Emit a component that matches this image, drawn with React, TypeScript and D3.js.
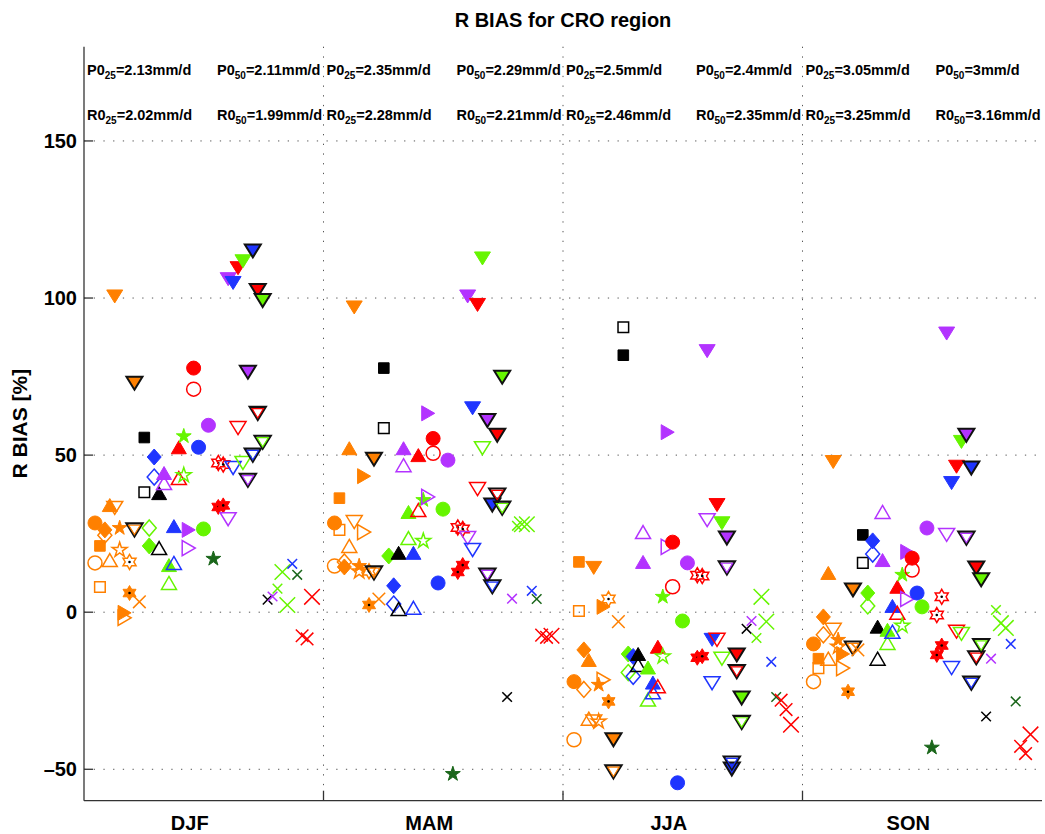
import React from 'react';
import * as d3 from 'd3';

const seasons = ['DJF', 'MAM', 'JJA', 'SON'];
const p0q25 = ['2.13', '2.35', '2.5', '3.05'];
const p0q50 = ['2.11', '2.29', '2.4', '3'];
const r0q25 = ['2.02', '2.28', '2.46', '3.25'];
const r0q50 = ['1.99', '2.21', '2.35', '3.16'];
const yTicks = [-50, 0, 50, 100, 150];

// one entry per model: marker shape and colour
const modelShapes = [
  'o', 's', 'd', '^', 'v', 'p', '>', 'h', 've', 'xm',
  's', 'd', 'd', '^', '^', '^', '^', '^', 'p', '>',
  'o', 'o', 'o', 'o', 'p', 'h', 'h', 'v', 'v', 'v',
  'v', 've', 've', 've', 've', 'x', 'x', 'x', 'X', 'X',
  'x', 'x', 'xm', 'xm', 'X',
];
const modelColors = [
  'O', 'O', 'O', 'O', 'O', 'O', 'O', 'O', 'O', 'O',
  'K', 'G', 'B', 'K', 'P', 'G', 'B', 'R', 'G', 'P',
  'R', 'B', 'G', 'P', 'D', 'R', 'R', 'P', 'B', 'R',
  'G', 'P', 'B', 'R', 'G', 'K', 'P', 'G', 'G', 'G',
  'B', 'D', 'R', 'R', 'R',
];

const N = null;
// filled markers (first threshold) and open markers (second threshold), R BIAS in %
const djfSolid = [28.4, 21.1, 26.2, 34.1, 100.5, 26.8, -0.2, 6.1, 72.9, 3.3,
  55.6, 21.1, 49.4, 37.9, 44.3, 15, 27.4, 52.5, 56, 26.2,
  77.7, 52.5, 26.5, 59.5, 17, 33.5, 34, 106, 104.8, 109.5,
  111.7, 76.4, 115, 102.4, 99.2, 4, 5, 7.5, 12.8, 2.3,
  15.4, 11.9, -7.5, -8.5, 4.9];
const djfOpen = [15.7, 8, 24.5, 16.6, 33.2, 19.8, -1.8, 16, 26.2, N,
  38.2, 26.8, 43, 20.4, 41.1, 9.3, 15.7, 42.7, 43.6, 20.4,
  71, N, N, N, N, 47.5, 47, 29.6, 45.9, 58.6,
  47.5, 42, 50, 63.3, 54.1];

const mamSolid = [28.4, 36.3, 14.4, 52.2, 97, 14.7, 43.3, 2.3, 48.7, 4.2,
  77.7, 17.9, 8.4, 18.9, 52.2, 31.9, 18.9, 50, 35.7, 63.3,
  55.3, 9.3, 32.8, 48.4, -51.5, 12.8, 15, 100.5, 64.9, 97.8,
  112.6, 61, 34.1, 56.3, 74.8, -27, 4.3, 27.5, 28, 28,
  6.8, 4.2, -7.3, -8, -7.5];
const mamOpen = [14.7, 26.2, 16, 21.1, 28.7, 13, 25.5, 13, 12.5, N,
  58.6, N, 2.6, 1, 46.8, 23.6, 1.4, 32.5, 22.7, 36.7,
  50.6, N, N, N, N, 27, 26.5, 23.6, 19.8, 39.2,
  52.2, 11.8, 8.1, 37.3, 33.1];

const jjaSolid = [-22.1, 16, -12, -15.2, 14.1, -23.1, 1.7, -28.4, -40.6, -3,
  81.8, -13.3, -14.1, -13.3, 16, -17.6, -22.4, -11, 4.9, 57.3,
  22.3, -54.3, -2.8, 15.7, N, -14.5, -14, 83.1, -8.8, 34.1,
  28.3, 23.6, -49.9, -13.6, -27.3, -5.3, -2.8, -8.2, 4.9, -3,
  -15.8, -27, -28, -31, -35.8];
const jjaOpen = [-40.6, 0.4, -24.6, -33.9, -34.8, -34.8, -21.5, 4.2, -50.8, N,
  90.7, -19.2, -20.4, -16.8, 25.5, -27.8, -25.5, -23.6, -14.1, 20.8,
  8.1, N, N, N, N, 11.8, 11.5, 29.3, -22.6, -8.8,
  -14.8, 14.1, -48, -18.9, -35.1];

const sonSolid = [-10.1, -14.8, -1.5, 12.5, 47.8, -8.8, -13.3, -25.3, 7.1, -12,
  24.6, 6.1, 22.7, -4.6, 16.6, -5.6, 2, 8.1, 11.9, 19.2,
  17.2, 6.1, 1.7, 26.8, -43.1, -13.6, -10.6, 88.7, 41.1, 46.3,
  54.2, 56.3, 45.9, 14.1, 10.3, -33.2, -14.8, 0.7, -3.5, -5,
  -10.1, -28.4, -42.7, -45, -38.9];
const sonOpen = [-22.1, -17.8, -7.2, -14.8, -5.6, -11, -17.8, N, -11.4, N,
  15.7, 2, 18.5, -14.8, 31.9, -9.8, -6.2, -0.2, -4.3, 4.2,
  13.4, N, N, N, N, -0.9, 4.9, 24.6, -17.8, -6.2,
  -6.9, 23.6, -22.6, -14.5, -10.6];

const seasonSolid = [djfSolid, mamSolid, jjaSolid, sonSolid];
const seasonOpen = [djfOpen, mamOpen, jjaOpen, sonOpen];

const palette: Record<string, string> = {
  O: '#ff8000', K: '#000000', B: '#1f35ff', G: '#66f500',
  P: '#b333ff', R: '#ff0000', D: '#1a661a',
};

const W = 1045;
const H = 834;
const left = 84;
const right = 1042;
const top = 46.7;
const bottom = 800.7;
const font = '"Liberation Sans", Arial, Helvetica, sans-serif';

const yScale = d3.scaleLinear().domain([-60, 180]).range([bottom, top]);
const xSeason = d3.scaleBand<string>().domain(seasons).range([left, right]);
const xModel = d3.scaleLinear().domain([0, modelShapes.length - 1]).range([11, 228]);

function glyph(shape: string): string {
  const p = d3.path();
  const poly = (pts: number[][]) => {
    pts.forEach(([a, b], i) => (i ? p.lineTo(a, b) : p.moveTo(a, b)));
    p.closePath();
  };
  const star = (n: number, ro: number, ri: number) => {
    const pts: number[][] = [];
    for (let i = 0; i < 2 * n; i++) {
      const r = i % 2 ? ri : ro;
      const a = -Math.PI / 2 + (i * Math.PI) / n;
      pts.push([r * Math.cos(a), r * Math.sin(a)]);
    }
    poly(pts);
  };
  switch (shape) {
    case 'o':
      p.arc(0, 0, 7, 0, 2 * Math.PI);
      break;
    case 's':
      poly([[-5.3, -5.3], [5.3, -5.3], [5.3, 5.3], [-5.3, 5.3]]);
      break;
    case 'd':
      poly([[0, -8], [7, 0], [0, 8], [-7, 0]]);
      break;
    case '^':
      poly([[0, -6.5], [7.5, 6.5], [-7.5, 6.5]]);
      break;
    case 'v':
    case 've':
      poly([[0, 6.5], [8, -6.5], [-8, -6.5]]);
      break;
    case '>':
      poly([[6.5, 0], [-6.5, 7.5], [-6.5, -7.5]]);
      break;
    case 'p':
      star(5, 7.8, 7.8 * 0.38);
      break;
    case 'h':
      star(6, 7.5, 7.5 / Math.sqrt(3));
      break;
    default: {
      const r = shape === 'X' ? 7.8 : shape === 'xm' ? 6.3 : 4.8;
      p.moveTo(-r, -r);
      p.lineTo(r, r);
      p.moveTo(-r, r);
      p.lineTo(r, -r);
    }
  }
  return p.toString();
}

function Marker({ shape, color, hollow, cx, cy }: { shape: string; color: string; hollow: boolean; cx: number; cy: number }) {
  const d = glyph(shape);
  const t = `translate(${cx},${cy})`;
  if (shape[0] === 'x' || shape === 'X') {
    return <path transform={t} d={d} fill="none" stroke={color} strokeWidth={1.5} />;
  }
  if (shape === 've') {
    if (!hollow) return <path transform={t} d={d} fill={color} stroke="#111" strokeWidth={2} strokeLinejoin="miter" />;
    return (
      <g transform={t}>
        <path d={d} fill="none" stroke="#111" strokeWidth={2.2} />
        <path d={d} transform="scale(0.72)" fill="none" stroke={color} strokeWidth={1.6} />
      </g>
    );
  }
  return (
    <g transform={t}>
      <path d={d} fill={hollow ? 'none' : color} stroke={color} strokeWidth={hollow ? 1.5 : 1} />
      {shape === 'h' && <circle r={1.3} fill="#000" />}
    </g>
  );
}

export default function App() {
  const gridStroke = '#555';
  const dash = '1.3 8.4';
  const boundaries = seasons.slice(1).map((s) => xSeason(s)!);

  const marks: React.ReactNode[] = [];
  seasons.forEach((s, si) => {
    const x0 = xSeason(s)!;
    modelShapes.forEach((shape, mi) => {
      const cx = x0 + xModel(mi);
      const color = palette[modelColors[mi]];
      const v1 = seasonSolid[si][mi];
      const v2 = seasonOpen[si][mi];
      if (v1 != null) marks.push(<Marker key={`${s}-${mi}-a`} shape={shape} color={color} hollow={false} cx={cx} cy={yScale(v1)} />);
      if (v2 != null) marks.push(<Marker key={`${s}-${mi}-b`} shape={shape} color={color} hollow={true} cx={cx} cy={yScale(v2)} />);
    });
  });

  const sub = (base: string, q: string, val: string) => (
    <>
      {base}
      <tspan fontSize={10} dy={4}>{q}</tspan>
      <tspan dy={-4}>{`=${val}mm/d`}</tspan>
    </>
  );

  return (
    <svg width={W} height={H} style={{ position: 'absolute', left: 0, top: 0, background: '#fff' }} fontFamily={font}>
      <rect width={W} height={H} fill="#fff" />
      {/* grid */}
      {yTicks.map((t) => (
        <line key={`g${t}`} x1={left} x2={right} y1={yScale(t)} y2={yScale(t)} stroke={gridStroke} strokeDasharray={dash} />
      ))}
      {boundaries.map((bx) => (
        <line key={`v${bx}`} x1={bx} x2={bx} y1={top} y2={bottom} stroke={gridStroke} strokeDasharray={dash} />
      ))}
      {/* axes */}
      <line x1={left} x2={left} y1={top} y2={bottom} stroke="#333" strokeWidth={1.3} />
      <line x1={left} x2={right} y1={bottom} y2={bottom} stroke="#333" strokeWidth={1.3} />
      {yTicks.map((t) => (
        <g key={`t${t}`}>
          <line x1={left} x2={left + 9} y1={yScale(t)} y2={yScale(t)} stroke="#333" strokeWidth={1.3} />
          <text x={77} y={yScale(t)} dy="0.36em" textAnchor="end" fontSize={20} fontWeight="bold">
            {t < 0 ? `\u2013${-t}` : t}
          </text>
        </g>
      ))}
      {boundaries.map((bx) => (
        <line key={`bt${bx}`} x1={bx} x2={bx} y1={bottom} y2={bottom - 10} stroke="#333" strokeWidth={1.3} />
      ))}
      {seasons.map((s) => (
        <text key={`c${s}`} x={xSeason(s)! + xSeason.bandwidth() / 2 - 14} y={830} textAnchor="middle" fontSize={20} fontWeight="bold">
          {s}
        </text>
      ))}
      {/* annotations */}
      {seasons.map((s, i) => {
        const x0 = xSeason(s)!;
        return (
          <g key={`a${s}`} fontSize={14.5} fontWeight="bold">
            <text x={x0 + 3} y={75}>{sub('P0', '25', p0q25[i])}</text>
            <text x={x0 + 133} y={75}>{sub('P0', '50', p0q50[i])}</text>
            <text x={x0 + 3} y={120}>{sub('R0', '25', r0q25[i])}</text>
            <text x={x0 + 133} y={120}>{sub('R0', '50', r0q50[i])}</text>
          </g>
        );
      })}
      {marks}
      <text x={(left + right) / 2} y={27} textAnchor="middle" fontSize={20} fontWeight="bold">
        R BIAS for CRO region
      </text>
      <text transform={`translate(27,${(top + bottom) / 2}) rotate(-90)`} textAnchor="middle" fontSize={21} fontWeight="bold">
        R BIAS [%]
      </text>
    </svg>
  );
}
